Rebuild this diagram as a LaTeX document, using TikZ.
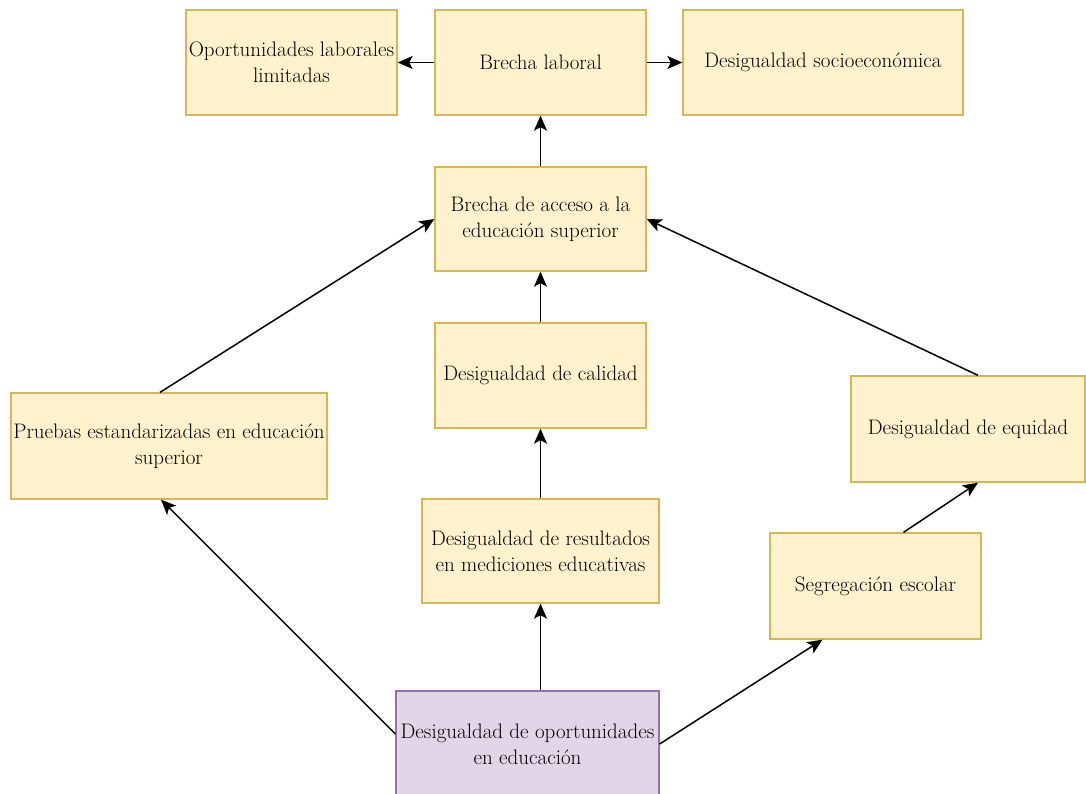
\documentclass[tikz,border=0pt]{standalone}
\usepackage{fontspec}
\usetikzlibrary{arrows.meta}

\definecolor{amarillo}{HTML}{FFF2CC}
\definecolor{amarilloborde}{HTML}{D6B656}
\definecolor{lila}{HTML}{E1D5E7}
\definecolor{lilaborde}{HTML}{9673A6}

\tikzset{
  caja/.style={draw=amarilloborde, fill=amarillo, line width=1.3pt, align=center,
    inner sep=2pt, font=\fontsize{21}{26}\selectfont},
  cajalila/.style={caja, draw=lilaborde, fill=lila},
}

\begin{document}
\begin{tikzpicture}[x=1pt, y=-1pt, line width=1.5pt, >={Stealth[length=15pt,width=13pt,inset=3.5pt]}]
    \useasboundingbox (0, 0) rectangle (1086, 793);

    \node [caja, minimum width=211, minimum height=105] (opor) at (291.5, 62.5) {Oportunidades laborales\\limitadas};
    \node [caja, minimum width=211, minimum height=105] (brecha) at (540.5, 62.5) {Brecha laboral};
    \node [caja, minimum width=280, minimum height=105] (socio) at (823, 62.5) {Desigualdad socioeconómica};
    \node [caja, minimum width=211, minimum height=104] (acceso) at (540.5, 219) {Brecha de acceso a la\\educación superior};
    \node [caja, minimum width=211, minimum height=105] (calidad) at (540.5, 375.5) {Desigualdad de calidad};
    \node [caja, minimum width=316, minimum height=106] (pruebas) at (169, 446) {Pruebas estandarizadas en educación\\superior};
    \node [caja, minimum width=234, minimum height=106] (equidad) at (968, 429) {Desigualdad de equidad};
    \node [caja, minimum width=237, minimum height=104] (result) at (540.5, 551) {Desigualdad de resultados\\en mediciones educativas};
    \node [caja, minimum width=211, minimum height=106] (segreg) at (875.5, 586) {Segregación escolar};
    \node [cajalila, minimum width=263, minimum height=106] (desig) at (527.5, 744) {Desigualdad de oportunidades\\en educación};

    \draw [->] (brecha) to (opor);
    \draw [->] (brecha) to (socio);
    \draw [->] (acceso) to (brecha);
    \draw [->] (calidad) to (acceso);
    \draw [->] (result) to (calidad);
    \draw [->] (desig.north -| result.south) to (result.south);
    \draw [->] ([xshift=-9]pruebas.north) to (acceso.west);
    \draw [->] ([xshift=10]equidad.north) to (acceso.east);
    \draw [->] ([yshift=10]desig.west) to ([xshift=-8]pruebas.south);
    \draw [->] (desig.east) to ([xshift=-53]segreg.south);
    \draw [->] ([xshift=28]segreg.north) to ([xshift=10]equidad.south);

  \end{tikzpicture}
\end{document}
